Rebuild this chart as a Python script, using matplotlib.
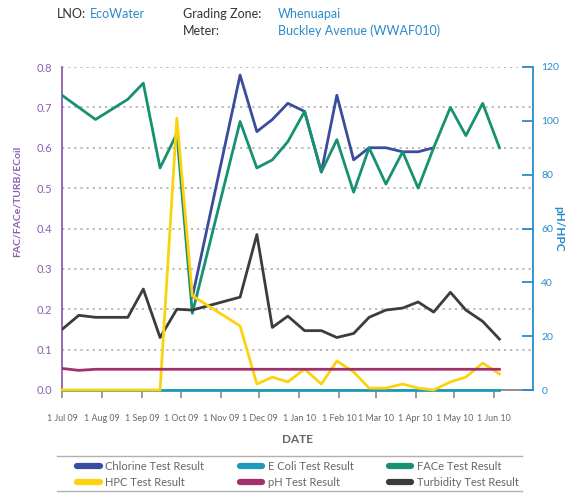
import matplotlib
matplotlib.use("Agg")
import matplotlib.pyplot as plt
from matplotlib.lines import Line2D
import numpy as np
import pandas as pd

plt.rcParams['font.family'] = ['Lato', 'DejaVu Sans']

# sample dates (union of all series)
DATES = ['2009-07-01', '2009-07-14', '2009-07-27', '2009-08-08', '2009-08-21',
         '2009-09-02', '2009-09-15', '2009-09-28', '2009-10-10', '2009-11-16',
         '2009-11-29', '2009-12-11', '2009-12-23', '2010-01-05', '2010-01-18',
         '2010-01-30', '2010-02-12', '2010-02-24', '2010-03-09', '2010-03-22',
         '2010-04-03', '2010-04-15', '2010-04-28', '2010-05-10', '2010-05-23',
         '2010-06-05']
N = None
chlorine = [N, N, N, N, N, N, N, N, 0.23, 0.78, 0.64, 0.67, 0.71, 0.69, 0.54,
            0.73, 0.57, 0.60, 0.60, 0.59, 0.59, 0.60, N, N, N, N]
ecoli = [0.0] * 26
face = [0.73, N, 0.67, N, 0.72, 0.76, 0.55, 0.635, 0.19, 0.665, 0.55, 0.57,
        0.615, 0.69, 0.54, 0.62, 0.49, 0.60, 0.51, 0.59, 0.50, 0.60, 0.70,
        0.63, 0.71, 0.60]
hpc = [0, 0, 0, 0, 0, 0, 0, 101, 35, 23.8, 2.2, 4.8, 3, 7.8, 2.2, 10.8, 6.7,
       0.7, 0.7, 2.2, 0.7, 0, 3, 4.8, 10, 6]
ph = [8.0, 7.3, 7.7, 7.7, 7.7, 7.7, 7.7, 7.7, 7.7, 7.7, 7.7, 7.7, 7.7, 7.7,
      7.7, 7.7, 7.7, 7.7, 7.7, 7.7, 7.7, 7.7, 7.7, 7.7, 7.7, 7.7]
turbidity = [0.15, 0.185, 0.18, 0.18, 0.18, 0.25, 0.13, 0.20, 0.198, 0.23,
             0.385, 0.155, 0.183, 0.147, 0.147, 0.13, 0.14, 0.18, 0.198, 0.203,
             0.218, 0.193, 0.242, 0.198, 0.17, 0.126]

dates = pd.to_datetime(DATES)

C_CHL = '#3a4c9e'
C_ECO = '#1f9ab8'
C_FAC = '#179171'
C_HPC = '#fcd20f'
C_PH = '#a1306b'
C_TUR = '#3c3c3c'
PURPLE = '#8a5fb0'
BLUE = '#2a8bc9'
GREY = '#666666'


def series(vals):
    m = np.array([v is not None for v in vals])
    return dates[m], np.array([v for v in vals if v is not None], dtype=float)


fig = plt.figure(figsize=(5.68, 4.93), dpi=100)
ax = fig.add_axes([62 / 568, 103 / 493, 471 / 568, 323 / 493])
ax2 = ax.twinx()

lw = 2.0
x, y = series(ecoli)
l_eco, = ax.plot(x, y, color=C_ECO, lw=lw, clip_on=False, zorder=3)
x, y = series(chlorine)
l_chl, = ax.plot(x, y, color=C_CHL, lw=lw, zorder=3)
x, y = series(face)
l_fac, = ax.plot(x, y, color=C_FAC, lw=lw, zorder=4)
x, y = series(turbidity)
l_tur, = ax.plot(x, y, color=C_TUR, lw=lw, zorder=5)
x, y = series(hpc)
l_hpc, = ax2.plot(x, y, color=C_HPC, lw=lw, clip_on=False, zorder=3)
x, y = series(ph)
l_ph, = ax2.plot(x, y, color=C_PH, lw=lw, zorder=4)

ax.set_xlim(pd.Timestamp('2009-07-01'), pd.Timestamp('2010-07-01'))
ax.set_ylim(0, 0.8)
ax2.set_ylim(0, 120)

# left axis
ax.set_yticks(np.arange(0, 0.81, 0.1))
ax.set_yticklabels(['%.1f' % v for v in np.arange(0, 0.81, 0.1)])
ax.yaxis.grid(True, linestyle=(0, (1.2, 2.2)), color='#b5b5b5', lw=1.3)
ax.set_axisbelow(True)
ax.tick_params(axis='y', length=0, pad=7, labelsize=8, labelcolor=PURPLE)
ax.spines['left'].set_color(PURPLE)
ax.spines['left'].set_linewidth(1.3)
ax.spines['top'].set_visible(False)
ax.spines['right'].set_visible(False)
ax.spines['bottom'].set_color('#888888')
ax.spines['bottom'].set_linewidth(1.3)
ax.set_ylabel('FAC/FACe/TURB/ECoil', color=PURPLE, fontsize=7.5,
              fontweight='bold')
ax.yaxis.set_label_coords(-0.085, 0.585)

# date axis
ticks = pd.date_range('2009-07-01', '2010-06-01', freq='MS')
ax.set_xticks(ticks)
ax.set_xticklabels([t.strftime('1 %b %y') for t in ticks])
ax.tick_params(axis='x', direction='out', length=6, width=1.2, color='#888888',
               pad=11, labelsize=6.4, labelcolor=GREY)
ax.set_xlabel('DATE', color=GREY, fontsize=8.5, fontweight='bold', labelpad=8)

# right axis
ax2.set_yticks(range(0, 121, 20))
ax2.tick_params(axis='y', direction='in', length=8, width=1.3, color=BLUE,
                pad=6, labelsize=7.5, labelcolor=BLUE)
for s in ['left', 'top', 'bottom']:
    ax2.spines[s].set_visible(False)
ax2.spines['right'].set_color(BLUE)
ax2.spines['right'].set_linewidth(1.3)
ax2.set_ylabel('pH/HPC', color=BLUE, fontsize=8.5, fontweight='bold',
               rotation=270, va='center')
ax2.yaxis.set_label_coords(1.055, 0.5)

# header
hs = 9
fig.text(57 / 568, 1 - 14 / 493, 'LNO:', fontsize=hs, color='#333333', va='center')
fig.text(90 / 568, 1 - 14 / 493, 'EcoWater', fontsize=hs, color=BLUE, va='center')
fig.text(183 / 568, 1 - 14 / 493, 'Grading Zone:', fontsize=hs, color='#333333', va='center')
fig.text(278 / 568, 1 - 14 / 493, 'Whenuapai', fontsize=hs, color=BLUE, va='center')
fig.text(183 / 568, 1 - 31 / 493, 'Meter:', fontsize=hs, color='#333333', va='center')
fig.text(278 / 568, 1 - 31 / 493, 'Buckley Avenue (WWAF010)', fontsize=hs,
         color=BLUE, va='center')

# legend
handles = [l_chl, l_hpc, l_eco, l_ph, l_fac, l_tur]
labels = ['Chlorine Test Result', 'HPC Test Result', 'E Coli Test Result',
          'pH Test Result', 'FACe Test Result', 'Turbidity Test Result']
proxies = [Line2D([], [], color=h.get_color(), lw=4.5, solid_capstyle='round')
           for h in handles]
leg = fig.legend(proxies, labels, ncol=3, frameon=False, fontsize=8,
                 loc='center', bbox_to_anchor=(298 / 568, 1 - 474.5 / 493),
                 handlelength=2.0, columnspacing=3.2, handletextpad=0.5,
                 labelspacing=0.45)
for t in leg.get_texts():
    t.set_color(GREY)
for yy in (456, 491):
    fig.add_artist(Line2D([57 / 568, 522 / 568], [1 - yy / 493, 1 - yy / 493],
                          color='#b0b0b0', lw=1.0))

fig.savefig('out.png', dpi=100)
